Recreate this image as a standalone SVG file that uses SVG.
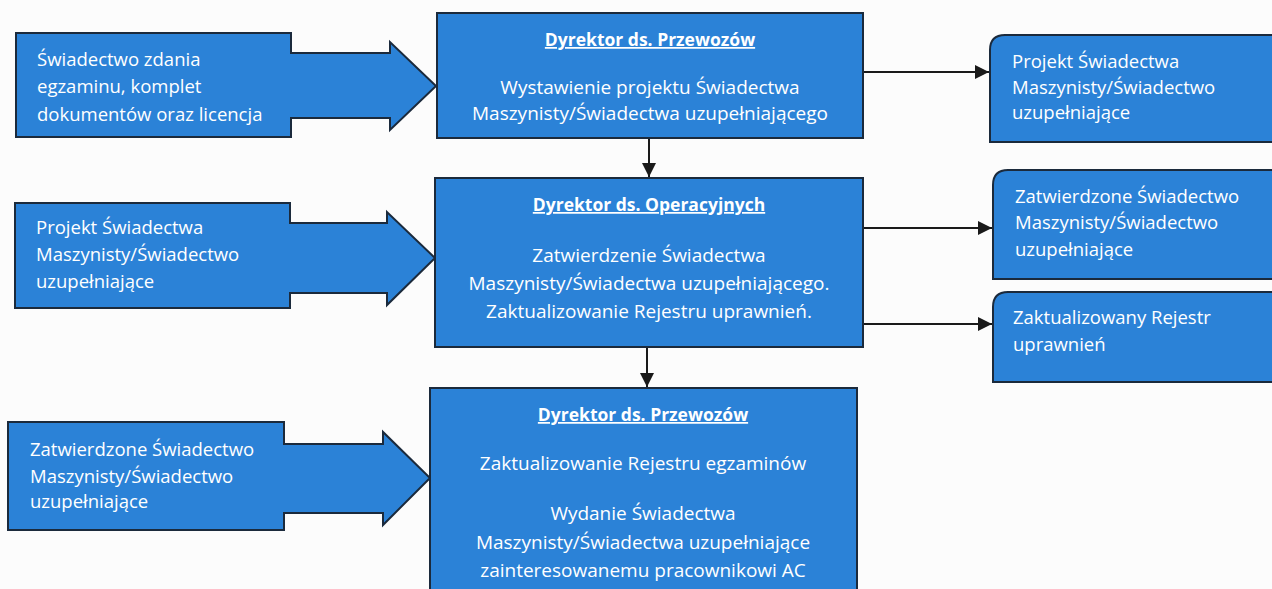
<svg xmlns="http://www.w3.org/2000/svg" width="1272" height="589" viewBox="0 0 1272 589">
<style>
.shape{fill:#2b82d7;stroke:#1b2a3c;stroke-width:2}
.t{fill:#ffffff;font-family:"Open Sans","Noto Sans",sans-serif;font-size:18.5px}
.c{text-anchor:middle;font-size:19px}
.h{font-weight:bold;text-decoration:underline;font-size:17.5px}
.conn{stroke:#1a1a1a;stroke-width:2;fill:none}
</style>
<defs>
<marker id="ah" viewBox="0 0 10 10" refX="10" refY="5" markerWidth="7" markerHeight="7" orient="auto" markerUnits="strokeWidth">
<path d="M0,0 L10,5 L0,10 z" fill="#1a1a1a"/>
</marker>
</defs>
<rect width="1272" height="589" fill="#fcfcfc"/>
<g id="connectors">
<line class="conn" x1="649" y1="138" x2="649" y2="177" marker-end="url(#ah)"/>
<line class="conn" x1="647" y1="347" x2="647" y2="387" marker-end="url(#ah)"/>
<line class="conn" x1="863" y1="72" x2="989" y2="72" marker-end="url(#ah)"/>
<line class="conn" x1="863" y1="228" x2="992" y2="228" marker-end="url(#ah)"/>
<line class="conn" x1="863" y1="324" x2="992" y2="324" marker-end="url(#ah)"/>
</g>
<g id="in1">
<path class="shape" d="M16,33 L291,33 L291,53 L390,53 L390,42 L436,86 L390,130 L390,118 L291,118 L291,137 L16,137 Z"/>
<text class="t" x="37" y="66">Świadectwo zdania</text>
<text class="t" x="37" y="93">egzaminu, komplet</text>
<text class="t" x="37" y="121">dokumentów oraz licencja</text>
</g>
<g id="in2">
<path class="shape" d="M15,203 L290,203 L290,223 L387,223 L387,212 L435,258 L387,305 L387,293 L290,293 L290,308 L15,308 Z"/>
<text class="t" x="36" y="234">Projekt Świadectwa</text>
<text class="t" x="36" y="261">Maszynisty/Świadectwo</text>
<text class="t" x="36" y="288">uzupełniające</text>
</g>
<g id="in3">
<path class="shape" d="M8,422 L284,422 L284,444 L383,444 L383,432 L430,478 L383,525 L383,513 L284,513 L284,530 L8,530 Z"/>
<text class="t" x="30" y="456">Zatwierdzone Świadectwo</text>
<text class="t" x="30" y="483">Maszynisty/Świadectwo</text>
<text class="t" x="30" y="508">uzupełniające</text>
</g>
<g id="box1">
<rect class="shape" x="437" y="13" width="426" height="125"/>
<text class="t c h" x="650" y="46">Dyrektor ds. Przewozów</text>
<text class="t c" x="650" y="94">Wystawienie projektu Świadectwa</text>
<text class="t c" x="650" y="120">Maszynisty/Świadectwa uzupełniającego</text>
</g>
<g id="box2">
<rect class="shape" x="435" y="178" width="428" height="169"/>
<text class="t c h" x="649" y="211">Dyrektor ds. Operacyjnych</text>
<text class="t c" x="649" y="262">Zatwierdzenie Świadectwa</text>
<text class="t c" x="649" y="290">Maszynisty/Świadectwa uzupełniającego.</text>
<text class="t c" x="649" y="318">Zaktualizowanie Rejestru uprawnień.</text>
</g>
<g id="box3">
<rect class="shape" x="430" y="388" width="427" height="215"/>
<text class="t c h" x="643" y="421">Dyrektor ds. Przewozów</text>
<text class="t c" x="643" y="470">Zaktualizowanie Rejestru egzaminów</text>
<text class="t c" x="643" y="520">Wydanie Świadectwa</text>
<text class="t c" x="643" y="549">Maszynisty/Świadectwa uzupełniające</text>
<text class="t c" x="643" y="577">zainteresowanemu pracownikowi AC</text>
</g>
<g id="out1">
<path class="shape" d="M1005,35 L1280,35 L1280,142 L990,142 L990,50 Q990,35 1005,35 Z"/>
<text class="t" x="1012" y="68">Projekt Świadectwa</text>
<text class="t" x="1012" y="94">Maszynisty/Świadectwo</text>
<text class="t" x="1012" y="119">uzupełniające</text>
</g>
<g id="out2">
<path class="shape" d="M1008,170 L1280,170 L1280,279 L993,279 L993,185 Q993,170 1008,170 Z"/>
<text class="t" x="1015" y="203">Zatwierdzone Świadectwo</text>
<text class="t" x="1015" y="229">Maszynisty/Świadectwo</text>
<text class="t" x="1015" y="256">uzupełniające</text>
</g>
<g id="out3">
<path class="shape" d="M1008,292 L1280,292 L1280,382 L993,382 L993,307 Q993,292 1008,292 Z"/>
<text class="t" x="1013" y="324">Zaktualizowany Rejestr</text>
<text class="t" x="1013" y="351">uprawnień</text>
</g>
</svg>
